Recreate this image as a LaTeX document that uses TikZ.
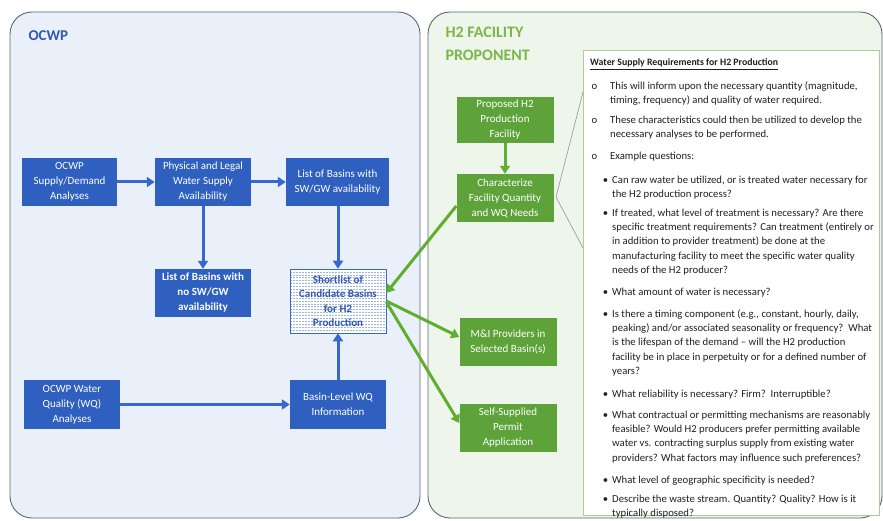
\documentclass[tikz,border=0pt]{standalone}
\usepackage{fontspec}
\setmainfont{Carlito}
\usetikzlibrary{arrows.meta}

\definecolor{ocwpfill}{HTML}{EAF0F9}
\definecolor{ocwpbox}{HTML}{2F5FBF}
\definecolor{ocwptitle}{HTML}{3458B0}
\definecolor{ocwparrow}{HTML}{3868CF}
\definecolor{hatchblue}{HTML}{9DB3E0}
\definecolor{h2fill}{HTML}{EEF5EA}
\definecolor{h2box}{HTML}{5EA33A}
\definecolor{h2title}{HTML}{7AB648}
\definecolor{h2arrow}{HTML}{5FAE30}
\definecolor{panelline}{HTML}{5C6672}
\definecolor{noteline}{HTML}{A9CF95}
\definecolor{calloutline}{HTML}{8C9A84}
\definecolor{notetext}{HTML}{202020}

\tikzset{
  panel/.style={draw=panelline, line width=0.9pt, rounded corners=22pt},
  boxbase/.style={text=white, align=center, inner sep=2pt,
    font=\fontsize{11}{15}\selectfont},
  bluebox/.style={boxbase, fill=ocwpbox, minimum width=96pt, minimum height=48pt},
  greenbox/.style={boxbase, fill=h2box, minimum width=97pt, minimum height=48pt},
  bluearrow/.style={draw=ocwparrow, line width=3pt,
    -{Triangle[length=8pt,width=10pt]}},
  greenarrow/.style={draw=h2arrow, line width=3pt,
    -{Triangle[length=8pt,width=10pt]}},
  hatch/.style={draw=hatchblue, line width=0.5pt, dash pattern=on 2pt off 1pt},
  para/.style={anchor=north west, inner sep=0pt, align=left, text=notetext,
    font=\fontsize{10.7}{14.3}\selectfont},
}

\newcommand{\obul}{\llap{o\hspace{13pt}}}
\newcommand{\dbul}{\llap{\textbullet\hspace{4pt}}}

\begin{document}
\begin{tikzpicture}[x=1pt, y=-1pt]
\useasboundingbox (0,0) rectangle (883,521);
\fill[white] (0,0) rectangle (883,521);

% two swim-lane panels
\draw[panel, fill=ocwpfill] (10,12) rectangle (420,518);
\draw[panel, fill=h2fill] (428,12) rectangle (882,518);

\node[anchor=base west, text=ocwptitle, font=\fontsize{15}{18}\selectfont\bfseries]
  (ocwptitle) at (25,41) {OCWP};
\node[anchor=base west, text=h2title, font=\fontsize{16}{23}\selectfont\bfseries]
  (h2titleA) at (442,38) {H2 FACILITY};
\node[anchor=base west, text=h2title, font=\fontsize{16}{23}\selectfont\bfseries]
  (h2titleB) at (442,61) {PROPONENT};

% OCWP boxes
\node[bluebox, minimum width=95pt] (supply) at (69.5,182) {OCWP\\Supply/Demand\\Analyses};
\node[bluebox] (phys) at (203,182) {Physical and Legal\\Water Supply\\Availability};
\node[bluebox, minimum width=103pt] (withsw) at (337.5,182) {List of Basins with\\SW/GW availability};
\node[bluebox, font=\fontsize{11}{15}\selectfont\bfseries] (nosw) at (203,293)
  {List of Basins with\\no SW/GW\\availability};
\node[bluebox, fill=white, draw=ocwparrow, line width=0.5pt, minimum height=64pt,
  text=ocwptitle, font=\fontsize{11}{14.5}\selectfont\bfseries,
  path picture={
    \foreach \k in {1,...,22}
      \draw[hatch] ([yshift=-\k*2.9pt]path picture bounding box.north west)
        -- ++(100pt,0);
  }] (short) at (338,301) {Shortlist of\\Candidate Basins\\for H2\\Production};
\node[bluebox, minimum height=49pt] (wq) at (72,404.5) {OCWP Water\\Quality (WQ)\\Analyses};
\node[bluebox, minimum height=49pt] (basinwq) at (338,404.5) {Basin-Level WQ\\Information};

% H2 proponent boxes
\node[greenbox, minimum height=46pt] (proposed) at (505,120) {Proposed H2\\Production\\Facility};
\node[greenbox] (charac) at (505,198) {Characterize\\Facility Quantity\\and WQ Needs};
\node[greenbox] (mi) at (508,342) {M\&I Providers in\\Selected Basin(s)};
\node[greenbox] (self) at (508,428) {Self-Supplied\\Permit\\Application};

% OCWP flow
\draw[bluearrow] (supply.east) -- (phys.west);
\draw[bluearrow] (phys.east) -- (withsw.west);
\draw[bluearrow] (phys.south) -- (nosw.north);
\draw[bluearrow] (withsw.south -| short.north) -- (short.north);
\draw[bluearrow] (wq.east) -- (basinwq.west);
\draw[bluearrow] (basinwq.north) -- (short.south);

% H2 proponent flow
\draw[greenarrow] ([yshift=-8pt]charac.west) -- ([yshift=8pt]short.east);
\draw[greenarrow] (proposed.south) -- (charac.north);
\draw[greenarrow] ([yshift=0pt]short.east) -- ([yshift=5pt]mi.west);
\draw[greenarrow] ([yshift=-1pt]short.east) -- ([yshift=5pt]self.west);

% requirements note with its callout
\draw[noteline, fill=white, line width=0.8pt] (583,50) rectangle (879,515);
\coordinate (calltop) at (583,92);
\coordinate (calltip) at (556,197);
\coordinate (callbot) at (583,248);
\draw[calloutline, line width=0.6pt] (calltop) -- (calltip) -- (callbot);

\node[anchor=base west, inner sep=0pt, text=notetext,
  font=\fontsize{9.8}{14}\selectfont\bfseries] (notehead) at (590,66)
  {\underline{Water Supply Requirements for H2 Production}};

\node[para] (o1) at (610,79) {\strut\obul This will inform upon the necessary quantity (magnitude,\\
  timing, frequency) and quality of water required.};
\node[para] (o2) at (610,113) {\strut\obul These characteristics could then be utilized to develop the\\
  necessary analyses to be performed.};
\node[para] (o3) at (610,149) {\strut\obul Example questions:};

\node[para] (q1) at (612,173) {\strut\dbul Can raw water be utilized, or is treated water necessary for\\
  the H2 production process?};
\node[para] (q2) at (612,206) {\strut\dbul If treated, what level of treatment is necessary? Are there\\
  specific treatment requirements? Can treatment (entirely or\\
  in addition to provider treatment) be done at the\\
  manufacturing facility to meet the specific water quality\\
  needs of the H2 producer?};
\node[para] (q3) at (612,285) {\strut\dbul What amount of water is necessary?};
\node[para] (q4) at (612,307) {\strut\dbul Is there a timing component (e.g., constant, hourly, daily,\\
  peaking) and/or associated seasonality or frequency?\ \ What\\
  is the lifespan of the demand -- will the H2 production\\
  facility be in place in perpetuity or for a defined number of\\
  years?};
\node[para] (q5) at (612,387) {\strut\dbul What reliability is necessary? Firm?\ \ Interruptible?};
\node[para] (q6) at (612,408) {\strut\dbul What contractual or permitting mechanisms are reasonably\\
  feasible? Would H2 producers prefer permitting available\\
  water vs. contracting surplus supply from existing water\\
  providers? What factors may influence such preferences?};
\node[para] (q7) at (612,473) {\strut\dbul What level of geographic specificity is needed?};
\node[para] (q8) at (612,492) {\strut\dbul Describe the waste stream. Quantity? Quality? How is it\\
  typically disposed?};
\end{tikzpicture}
\end{document}
